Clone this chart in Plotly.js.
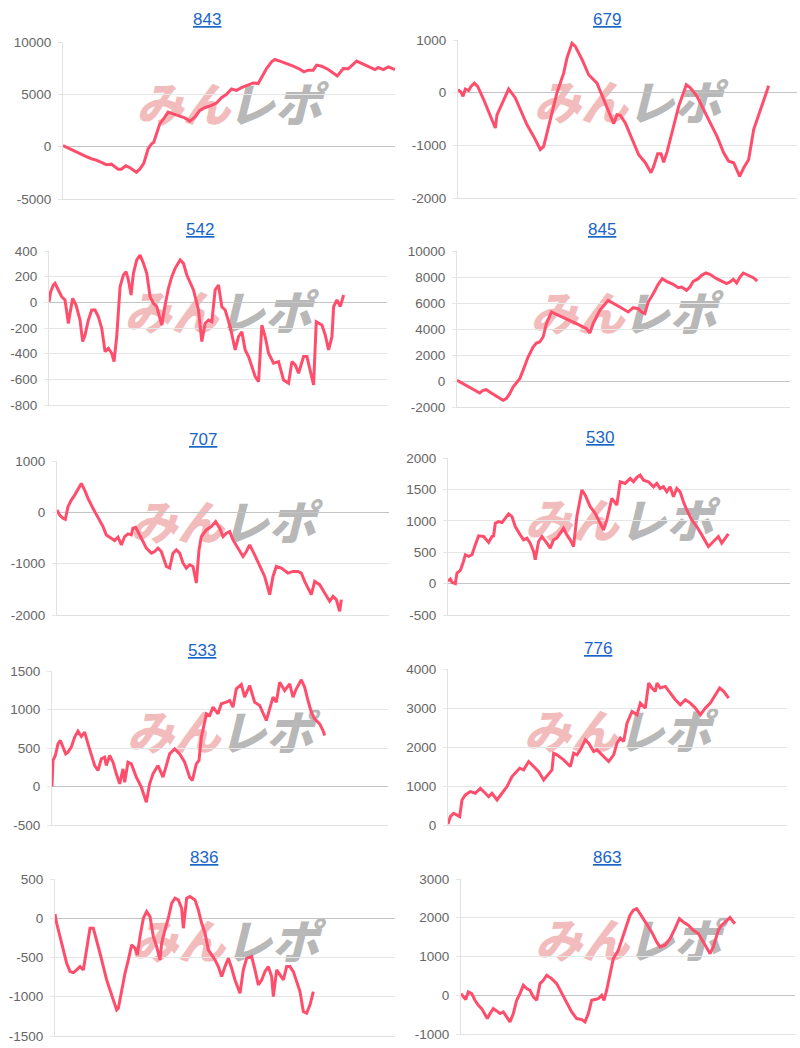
<!DOCTYPE html>
<html><head><meta charset="utf-8">
<script src="https://cdn.plot.ly/plotly-3.0.1.min.js"></script>
<style>html,body{margin:0;padding:0;background:#fff}</style>
</head><body>
<div id="chart" style="width:800px;height:1048px"></div>
<script>
// ---- data (x: game count, y: coin difference) ----
const machines = ['843','679','542','845','707','530','533','776','836','863'];

const games843 = [0,250,500,700,850,1000,1200,1300,1450,1650,1750,1880,2000,2100,2200,2300,2420,2550,2650,2720,2800,2900,3050,3150,3300,3500,3650,3800,3950,4100,4250,4450,4600,4750,4900,5050,5200,5350,5550,5700,5850,6000,6100,6250,6350,6500,6700,6900,7100,7220,7350,7500,7600,7750,7950,8150,8220,8400,8550,8800,9000,9200,9350,9450,9600,9750,9850,9950];
const diff843 = [100,-300,-700,-960,-1150,-1280,-1570,-1730,-1670,-2150,-2150,-1830,-1990,-2240,-2440,-2150,-1600,-220,260,420,1220,2180,2820,3300,3140,2880,2750,2440,2820,3460,3720,3940,4170,4680,5000,5510,5380,5640,5870,6090,6030,6830,7470,8110,8330,8170,7950,7690,7400,7150,7310,7310,7790,7690,7370,6920,6760,7470,7440,8170,7850,7530,7370,7560,7370,7630,7470,7370];

const games679 = [0,90,150,220,320,390,490,590,770,970,1120,1170,1370,1520,1720,1870,2070,2270,2470,2570,2770,2970,3170,3270,3420,3520,3720,3920,4170,4370,4570,4670,4770,4870,5020,5220,5420,5620,5790,5870,5990,6090,6170,6270,6420,6620,6850,6970,7170,7370,7570,7770,7970,8120,8270,8450,8570,8720,8870,9070,9220,9320];
const diff679 = [60,10,-70,70,40,120,180,120,-130,-420,-670,-420,-130,70,-100,-320,-610,-830,-1080,-1020,-510,0,370,660,940,880,630,340,180,-130,-450,-590,-420,-430,-575,-890,-1180,-1330,-1520,-1400,-1160,-1160,-1320,-1130,-760,-260,150,90,-70,-320,-575,-830,-1140,-1300,-1330,-1590,-1430,-1270,-700,-320,-70,130];

const games542 = [0,50,130,180,280,380,480,580,630,710,810,930,1010,1080,1180,1280,1380,1480,1580,1680,1780,1880,1950,2030,2130,2230,2310,2380,2460,2530,2630,2730,2830,2930,3030,3130,3230,3380,3480,3580,3680,3780,3930,4030,4130,4230,4330,4480,4580,4680,4780,4880,4980,5080,5180,5280,5430,5580,5680,5780,5880,5980,6080,6180,6280,6380,6480,6580,6730,6880,7030,7180,7280,7380,7480,7630,7730,7830,7930,8010,8180,8280,8380,8480,8530,8630,8730,8830];
const diff542 = [5,83,135,148,96,44,18,-164,-86,31,-21,-138,-306,-255,-138,-60,-60,-112,-203,-384,-358,-397,-462,-265,122,213,239,174,57,226,330,369,304,226,44,-8,-34,-177,-21,109,200,265,330,304,213,161,96,-60,-306,-164,-138,-151,96,135,-34,-60,-190,-371,-268,-229,-371,-423,-501,-579,-618,-177,-268,-397,-475,-462,-605,-631,-462,-488,-553,-423,-423,-527,-644,-151,-177,-255,-371,-268,-34,18,-34,57];

const games845 = [0,180,380,580,680,780,880,980,1180,1380,1480,1580,1680,1780,1880,1980,2130,2280,2380,2480,2580,2680,2830,2980,3280,3580,3880,3980,4080,4280,4530,4680,4880,5130,5280,5430,5530,5630,5730,5880,6030,6150,6280,6480,6630,6730,6880,6980,7080,7230,7330,7460,7580,7780,7980,8080,8180,8280,8380,8480,8580,8730,8880,9000];
const diff845 = [51,-205,-513,-769,-923,-718,-667,-846,-1179,-1487,-1359,-974,-462,-154,179,820,1846,2615,2923,3000,3385,4410,5307,5128,4795,4410,4026,3692,4410,5436,6205,6000,5692,5307,5641,5564,5307,5179,6077,6718,7436,7872,7667,7436,7179,7231,6974,7231,7667,7872,8128,8308,8205,7872,7615,7487,7615,7820,7538,8000,8308,8103,7949,7692];

const games707 = [0,80,180,250,330,430,530,630,730,830,930,1080,1230,1380,1480,1630,1730,1830,1930,2030,2130,2230,2280,2360,2460,2580,2680,2830,2930,3030,3130,3280,3380,3480,3580,3680,3780,3880,3980,4080,4180,4260,4330,4480,4630,4760,4880,4980,5080,5180,5280,5430,5580,5680,5780,5930,6080,6230,6380,6480,6580,6730,6930,7080,7230,7330,7430,7530,7630,7730,7880,8030,8180,8280,8380,8480,8530];
const diff707 = [45,-52,-116,-136,110,239,336,465,562,433,272,78,-116,-278,-440,-504,-550,-485,-634,-472,-420,-440,-310,-291,-407,-569,-698,-795,-763,-698,-763,-1054,-1086,-795,-731,-795,-989,-1086,-1021,-1054,-1377,-731,-472,-343,-278,-181,-310,-472,-407,-375,-537,-698,-860,-763,-634,-828,-1054,-1248,-1603,-1248,-1054,-1086,-1183,-1151,-1151,-1183,-1345,-1474,-1603,-1345,-1409,-1571,-1733,-1636,-1700,-1927,-1700];

const games530 = [0,70,120,220,270,370,450,520,620,720,820,920,1070,1220,1320,1370,1420,1520,1620,1720,1820,1920,2020,2170,2270,2370,2470,2570,2620,2720,2820,2970,3070,3170,3270,3370,3470,3570,3670,3770,3870,4020,4120,4270,4420,4570,4670,4770,4920,5070,5170,5320,5470,5570,5670,5770,5870,6020,6170,6270,6370,6470,6570,6670,6770,6870,6970,7070,7170,7320,7470,7620,7720,7820,7970,8120,8220,8320,8420];
const diff530 = [37,74,21,0,169,211,327,459,433,459,618,760,750,655,750,760,961,987,972,1040,1109,1067,908,776,697,723,644,512,380,671,750,644,565,697,723,803,882,776,697,591,1067,1490,1410,1225,1119,961,855,1014,1357,1251,1621,1595,1674,1621,1690,1727,1647,1621,1542,1595,1515,1542,1463,1542,1383,1515,1463,1304,1172,1014,908,776,671,591,671,750,644,723,792];

const games533 = [0,30,100,180,250,330,410,480,580,680,780,880,980,1080,1180,1280,1380,1480,1580,1630,1730,1830,1930,2030,2130,2180,2280,2380,2530,2680,2830,2930,3030,3180,3330,3430,3530,3680,3830,3980,4130,4210,4330,4410,4480,4580,4630,4730,4830,4980,5080,5230,5330,5430,5530,5680,5780,5930,6080,6230,6330,6430,6530,6630,6730,6830,6980,7130,7230,7330,7480,7580,7680,7780,7880,8030,8130,8180];
const diff533 = [0,338,403,554,598,511,424,446,511,641,719,650,706,554,403,273,208,359,381,273,403,316,165,35,229,56,316,294,121,-9,-204,35,165,273,121,273,424,489,424,316,121,78,294,338,641,836,944,922,1031,944,1074,1095,1117,1031,1269,1325,1160,1312,1095,1052,944,857,1009,1160,1095,1355,1247,1334,1160,1269,1386,1290,1117,966,879,814,727,662];

const games776 = [0,70,170,270,350,420,520,670,820,970,1120,1220,1320,1470,1620,1770,1920,2020,2150,2270,2420,2570,2720,2870,3020,3120,3170,3270,3470,3670,3770,3870,3970,4120,4220,4370,4470,4570,4720,4820,4970,5070,5170,5270,5370,5520,5670,5770,5920,6020,6120,6220,6270,6370,6520,6670,6820,6970,7120,7270,7420,7570,7720,7870,8020,8150,8270,8420];
const diff776 = [26,214,300,257,214,642,771,857,814,942,814,728,814,642,814,985,1242,1328,1456,1413,1627,1499,1370,1156,1328,1413,1841,1799,1670,1499,1841,1799,1927,2184,2098,1884,1927,1841,1713,1627,1799,2098,2227,2141,2612,2912,2826,3126,2998,3640,3512,3426,3640,3512,3554,3383,3212,3083,3212,3126,2998,2826,2998,3126,3340,3512,3426,3255];

const games836 = [0,50,150,250,350,450,550,650,750,850,950,1050,1150,1250,1350,1450,1550,1650,1750,1850,1900,2000,2100,2200,2300,2400,2470,2550,2650,2750,2850,2950,3050,3150,3200,3300,3400,3500,3600,3700,3800,3850,3950,4050,4200,4300,4400,4500,4600,4700,4800,4900,5000,5100,5200,5300,5400,5550,5650,5750,5900,6000,6100,6200,6300,6400,6500,6550,6650,6750,6850,6950,7050,7150,7250,7350,7450,7550,7650,7750];
const diff836 = [55,-64,-234,-403,-573,-679,-692,-658,-616,-658,-403,-127,-127,-276,-446,-616,-786,-913,-1040,-1168,-1146,-913,-701,-531,-340,-382,-467,-234,0,85,21,-234,-361,-531,-318,-149,0,191,255,234,127,-127,255,276,234,106,-64,-191,-403,-467,-531,-616,-743,-616,-510,-637,-786,-955,-658,-510,-488,-658,-849,-786,-679,-616,-743,-998,-658,-722,-786,-616,-616,-679,-807,-934,-1189,-1210,-1104,-934];

const games863 = [0,70,140,220,320,420,520,620,720,790,870,970,1070,1170,1270,1370,1470,1570,1670,1770,1870,1970,2070,2170,2270,2370,2470,2570,2720,2870,3020,3170,3320,3470,3620,3720,3820,3920,4020,4120,4220,4290,4370,4470,4570,4720,4820,4970,5070,5170,5270,5370,5570,5720,5870,5970,6120,6270,6420,6550,6670,6820,6970,7120,7270,7370,7470,7570,7720,7820,7970,8070,8170,8220];
const diff863 = [43,-43,-112,86,43,-129,-258,-344,-516,-602,-473,-344,-404,-473,-430,-559,-688,-473,-129,43,258,172,129,-43,-129,301,387,516,430,301,43,-215,-430,-602,-628,-688,-473,-129,-112,-86,0,-129,129,559,946,1161,1419,1763,2064,2193,2236,2107,1849,1634,1376,1247,1290,1462,1720,1978,1892,1806,1677,1591,1376,1204,1075,1247,1677,1806,1935,2004,1892,1849];

const gamesAxisMax = [9950,10170,10130,9980,9960,10270,10080,10170,10200,10020];
const yMin = [-5000,-2000,-800,-2000,-2000,-500,-500,0,-1500,-1000];
const yMax = [10000,1000,400,10000,1000,2000,1500,4000,500,3000];
const yStep = [5000,1000,200,2000,1000,500,500,1000,500,1000];

const seriesX = [games843,games679,games542,games845,games707,games530,games533,games776,games836,games863];
const seriesY = [diff843,diff679,diff542,diff845,diff707,diff530,diff533,diff776,diff836,diff863];

// ---- layout (pixel boxes: left, right, top, bottom) ----
const W = 800, H = 1048;
const boxes = [[63,395,42,199],[458,797,40,198],[49,387,251,405],[457,790,251,407],[57,389,461,615],
               [448,790,458,615],[52,388,671,825],[448,787,669,825],[55,395,879,1036],[461,795,879,1034]];
const titlePos = [[207,20],[607,19],[200,229],[602,229],[203,439],[600,437],[202,650],[598,648],[204,857],[607,857]];

const LINE = 'rgb(255,78,108)';
const traces = [];
const layout = {
  width: W, height: H, margin: {l:0,r:0,t:0,b:0},
  paper_bgcolor: '#fff', plot_bgcolor: 'rgba(0,0,0,0)', showlegend: false,
  font: {family: 'Liberation Sans, Arial, sans-serif', color: '#666'},
  annotations: [], shapes: []
};

machines.forEach((m, i) => {
  const s = i === 0 ? '' : String(i + 1);
  const b = boxes[i];
  const tv = [];
  for (let v = yMin[i]; v <= yMax[i]; v += yStep[i]) tv.push(v);
  traces.push({
    x: seriesX[i], y: seriesY[i], type: 'scatter', mode: 'lines',
    line: {color: LINE, width: 3}, hoverinfo: 'skip',
    xaxis: 'x' + s, yaxis: 'y' + s
  });
  layout['xaxis' + s] = {
    domain: [b[0] / W, b[1] / W], range: [0, gamesAxisMax[i]],
    showgrid: false, zeroline: false, showticklabels: false, ticks: '',
    showline: true, linecolor: '#e2e2e2', linewidth: 1, anchor: 'y' + s, fixedrange: true
  };
  layout['yaxis' + s] = {
    domain: [1 - b[3] / H, 1 - b[2] / H], range: [yMin[i], yMax[i]],
    tickmode: 'array', tickvals: tv, ticktext: tv.map(v => String(v)),
    showgrid: true, gridcolor: '#e6e6e6', gridwidth: 1,
    zeroline: true, zerolinecolor: '#c4c4c4', zerolinewidth: 1,
    showline: true, linecolor: '#e2e2e2', linewidth: 1,
    ticks: 'outside', ticklen: 4, tickcolor: '#e6e6e6', ticklabelstandoff: 4,
    tickfont: {size: 13.5, color: '#666', family: 'Liberation Sans, Arial, sans-serif'},
    anchor: 'x' + s, fixedrange: true
  };
  layout.annotations.push({
    text: m, xref: 'paper', yref: 'paper',
    x: titlePos[i][0] / W, y: 1 - titlePos[i][1] / H,
    xanchor: 'center', yanchor: 'middle', showarrow: false,
    font: {size: 17, color: '#1a66c8', family: 'Liberation Sans, Arial, sans-serif', lineposition: 'under'}
  });
  // watermark drawn beneath the line
  const wm = [['みん', '#f2bcbc', -0.138], ['レポ', '#b8b8b8', 0.138]];
  wm.forEach(w => {
    layout.shapes.push({
      type: 'rect', xref: 'x' + s + ' domain', yref: 'y' + s + ' domain',
      x0: 0.5 + w[2] - 0.14, x1: 0.5 + w[2] + 0.14, y0: 0.38, y1: 0.76,
      line: {width: 0}, fillcolor: 'rgba(0,0,0,0)', layer: 'below',
      label: {text: '<i>' + w[0] + '</i>', textposition: 'middle center',
              font: {size: 47, color: w[1], weight: 900, family: 'Noto Sans CJK JP, sans-serif'}}
    });
  });
});

Plotly.newPlot('chart', traces, layout, {displayModeBar: false, staticPlot: true});
</script>
</body></html>
